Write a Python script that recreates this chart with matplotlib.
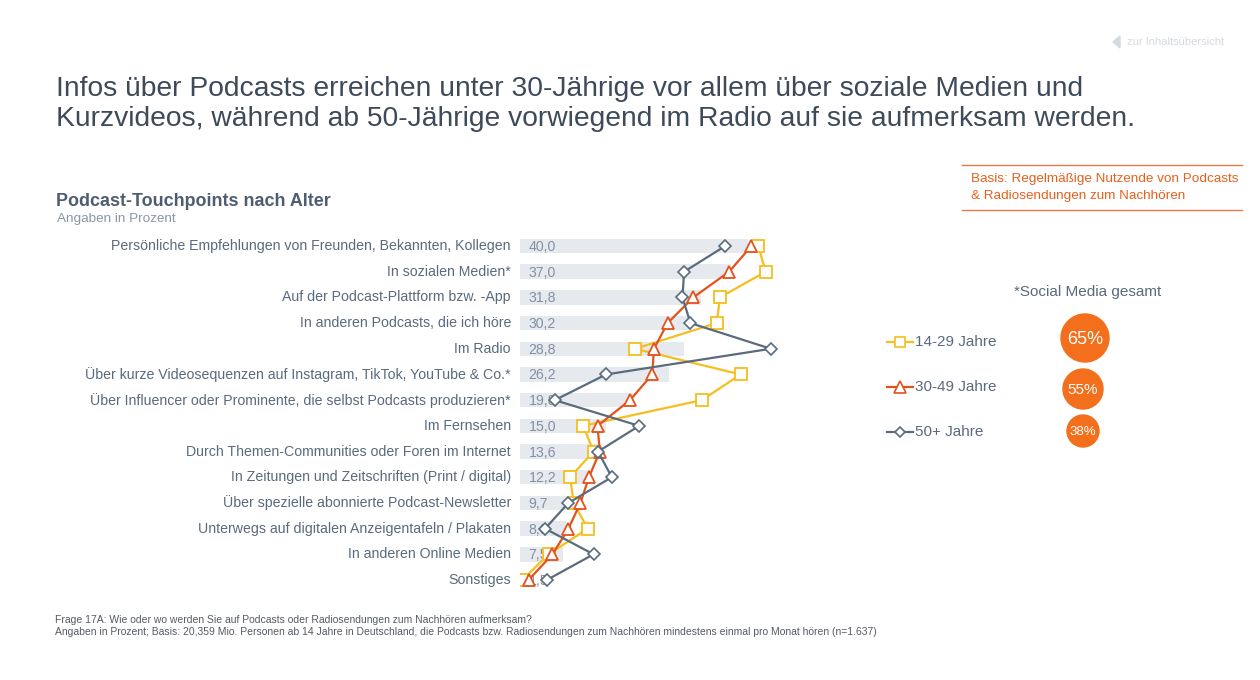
import matplotlib
matplotlib.use("Agg")
import matplotlib.pyplot as plt
from matplotlib.patches import Circle, Polygon
from matplotlib.lines import Line2D

plt.rcParams['font.family'] = ['Liberation Sans', 'DejaVu Sans']

categories = [
    "Persönliche Empfehlungen von Freunden, Bekannten, Kollegen",
    "In sozialen Medien*",
    "Auf der Podcast-Plattform bzw. -App",
    "In anderen Podcasts, die ich höre",
    "Im Radio",
    "Über kurze Videosequenzen auf Instagram, TikTok, YouTube & Co.*",
    "Über Influencer oder Prominente, die selbst Podcasts produzieren*",
    "Im Fernsehen",
    "Durch Themen-Communities oder Foren im Internet",
    "In Zeitungen und Zeitschriften (Print / digital)",
    "Über spezielle abonnierte Podcast-Newsletter",
    "Unterwegs auf digitalen Anzeigentafeln / Plakaten",
    "In anderen Online Medien",
    "Sonstiges",
]
total = [40.0, 37.0, 31.8, 30.2, 28.8, 26.2, 19.8, 15.0, 13.6, 12.2, 9.7, 8.0, 7.5, 1.5]
age_14_29 = [41.8, 43.1, 35.1, 34.5, 20.2, 38.7, 31.9, 11.1, 12.9, 8.8, 9.4, 11.9, 5.0, 0.4]
age_30_49 = [40.6, 36.7, 30.4, 25.9, 23.5, 23.2, 19.3, 13.6, 14.0, 12.1, 10.6, 8.5, 5.7, 1.5]
age_50_plus = [36.0, 28.8, 28.5, 29.9, 44.0, 15.1, 6.1, 20.9, 13.7, 16.1, 8.5, 4.4, 12.9, 4.7]
series_names = ["14-29 Jahre", "30-49 Jahre", "50+ Jahre"]
social_media_total = ["65%", "55%", "38%"]

W, H = 1260, 680
fig = plt.figure(figsize=(W / 100, H / 100), dpi=100)
fig.patch.set_facecolor("white")

TXT = "#5A6A7E"
TITLE = "#3E4A5A"
YEL = "#F6BE1E"
ORA = "#E4521B"
SLA = "#5B6B7E"
BAR = "#E6E9EE"
VAL = "#8391A3"

def fx(px):
    return px / W

def fy(py):
    return 1 - py / H

# axes placement in pixel coords
x0, xscale = 520, 5.7
row_top, row_bot = 246, 580
n = len(categories)
sp = (row_bot - row_top) / (n - 1)
ax_left, ax_right = x0, 800
ax_top = row_top - sp / 2
ax_bottom = row_bot + sp / 2
ax = fig.add_axes([fx(ax_left), fy(ax_bottom), (ax_right - ax_left) / W, (ax_bottom - ax_top) / H])
ax.set_xlim(0, (ax_right - ax_left) / xscale)
ax.set_ylim(n - 0.5, -0.5)
ax.axis("off")

ypos = list(range(n))
ax.barh(ypos, total, height=0.56, color=BAR, zorder=1)
for i, v in enumerate(total):
    ax.text(1.5, i + 0.04, f"{v:.1f}".replace(".", ","), va="center", ha="left",
            fontsize=10.2, color=VAL, zorder=2)
    ax.text(-1.6, i, categories[i], va="center", ha="right", fontsize=10.2,
            color=TXT, zorder=2, clip_on=False)

ax.plot(age_14_29, ypos, color=YEL, lw=1.6, marker="s", ms=8, mfc="white",
        mec=YEL, mew=1.3, zorder=3)
ax.plot(age_30_49, ypos, color=ORA, lw=1.6, marker="^", ms=9, mfc="white",
        mec=ORA, mew=1.3, zorder=4)
ax.plot(age_50_plus, ypos, color=SLA, lw=1.6, marker="D", ms=6, mfc="white",
        mec=SLA, mew=1.2, zorder=5)

# Title
fig.text(fx(56), fy(89), "Infos über Podcasts erreichen unter 30-Jährige vor allem über soziale Medien und",
         fontsize=20.3, color=TITLE, va="center", ha="left")
fig.text(fx(56), fy(119), "Kurzvideos, während ab 50-Jährige vorwiegend im Radio auf sie aufmerksam werden.",
         fontsize=20.3, color=TITLE, va="center", ha="left")

fig.text(fx(56), fy(201), "Podcast-Touchpoints nach Alter", fontsize=12.9, fontweight="bold",
         color="#4E5D70", va="center", ha="left")
fig.text(fx(57), fy(219), "Angaben in Prozent", fontsize=9.7, color="#8A96A6",
         va="center", ha="left")

# top-right link
fig.text(fx(1127), fy(42), "zur Inhaltsübersicht", fontsize=8, color="#D5DAE0",
         va="center", ha="left")
fig.patches.append(Polygon([[fx(1113), fy(42)], [fx(1120), fy(36)], [fx(1120), fy(48)]],
                           closed=True, transform=fig.transFigure, color="#D5DAE0"))

# Basis box
for yy in (165, 210):
    fig.lines.append(Line2D([fx(962), fx(1242)], [fy(yy), fy(yy)], transform=fig.transFigure,
                            color="#E8794A", lw=1.0))
fig.text(fx(971), fy(179), "Basis: Regelmäßige Nutzende von Podcasts", fontsize=9.7,
         color="#E8601C", va="center", ha="left")
fig.text(fx(971), fy(196), "& Radiosendungen zum Nachhören", fontsize=9.7,
         color="#E8601C", va="center", ha="left")

# Social media label
fig.text(fx(1088), fy(292), "*Social Media gesamt", fontsize=11, color=TXT,
         va="center", ha="center")

# Legend
leg_y = [342, 387, 432]
leg_col = [YEL, ORA, SLA]
leg_mk = ["s", "^", "D"]
leg_ms = [7, 8, 5.5]
for yy, c, m, ms, name in zip(leg_y, leg_col, leg_mk, leg_ms, series_names):
    fig.lines.append(Line2D([fx(887), fx(913)], [fy(yy), fy(yy)], transform=fig.transFigure,
                            color=c, lw=1.6))
    fig.lines.append(Line2D([fx(900)], [fy(yy)], transform=fig.transFigure, marker=m,
                            ms=ms, mfc="white", mec=c, mew=1.2, color=c))
    fig.text(fx(915), fy(yy), name, fontsize=11, color=TXT, va="center", ha="left")

# Circles (drawn in pixel-aspect-correct overlay axes)
cax = fig.add_axes([0, 0, 1, 1])
cax.set_xlim(0, W)
cax.set_ylim(H, 0)
cax.axis("off")
circ = [(1085, 338, 24, 13), (1083, 389, 20, 11), (1083, 431, 16, 9.5)]
for (cx, cy, r, fs), lab in zip(circ, social_media_total):
    cax.add_patch(Circle((cx, cy), r, color="#F36F1B", zorder=1))
    cax.text(cx, cy + 1, lab, fontsize=fs, color="white", ha="center", va="center", zorder=2)

# Footer
fig.text(fx(55), fy(620), "Frage 17A: Wie oder wo werden Sie auf Podcasts oder Radiosendungen zum Nachhören aufmerksam?",
         fontsize=7.5, color="#555B63", va="center", ha="left",
         family=["Liberation Sans Narrow", "Liberation Sans", "DejaVu Sans"])
fig.text(fx(55), fy(632), "Angaben in Prozent; Basis: 20,359 Mio. Personen ab 14 Jahre in Deutschland, die Podcasts bzw. Radiosendungen zum Nachhören mindestens einmal pro Monat hören (n=1.637)",
         fontsize=7.5, color="#555B63", va="center", ha="left",
         family=["Liberation Sans Narrow", "Liberation Sans", "DejaVu Sans"])

fig.savefig("out.png", dpi=100, facecolor="white")
